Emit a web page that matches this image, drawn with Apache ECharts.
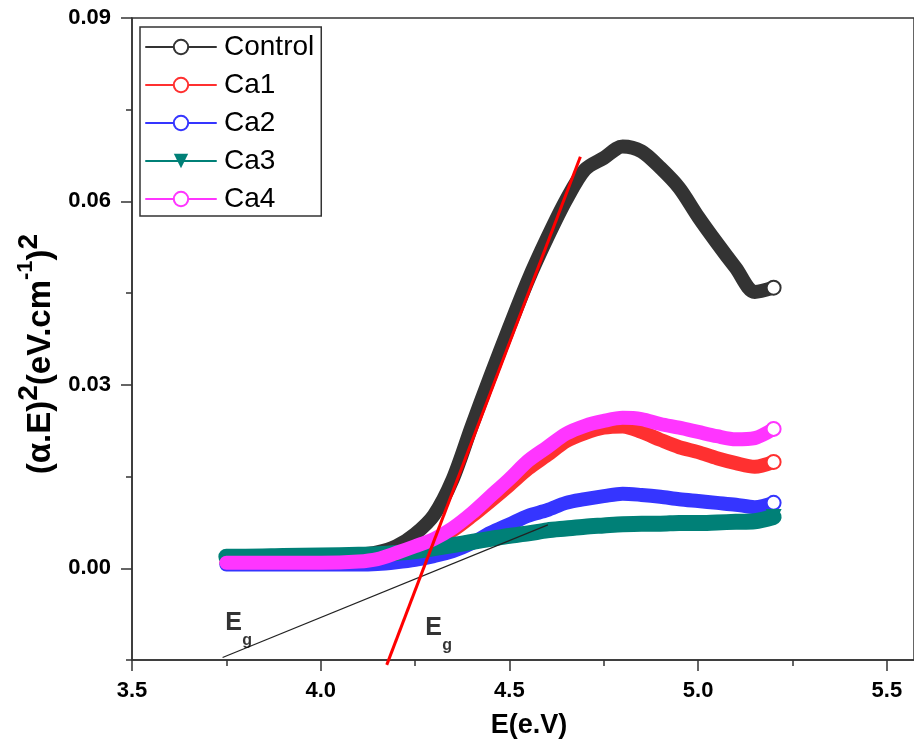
<!DOCTYPE html>
<html><head><meta charset="utf-8">
<script src="https://cdn.jsdelivr.net/npm/echarts@6/dist/echarts.min.js"></script>
<style>html,body{margin:0;padding:0;background:#fff}#c{width:914px;height:747px}</style>
</head><body><div id="c"></div>
<script>
const energy  = [3.75, 3.8, 3.9, 4.0, 4.1, 4.15, 4.2, 4.25, 4.3, 4.35, 4.4, 4.45, 4.5, 4.55, 4.6, 4.65, 4.7, 4.75, 4.8, 4.85, 4.9, 4.95, 5.0, 5.05, 5.1, 5.15, 5.2];
const control = [0.0018, 0.0018, 0.0019, 0.0019, 0.0022, 0.0026, 0.0036, 0.0056, 0.0087, 0.0146, 0.0232, 0.0315, 0.0395, 0.0472, 0.0540, 0.0602, 0.0652, 0.0671, 0.0690, 0.0682, 0.0655, 0.0622, 0.0575, 0.0532, 0.0491, 0.0452, 0.0459];
const ca1     = [0.0009, 0.0009, 0.0009, 0.0009, 0.0010, 0.0013, 0.0022, 0.0033, 0.0045, 0.0062, 0.0085, 0.0110, 0.0136, 0.0163, 0.0185, 0.0208, 0.0221, 0.0230, 0.0232, 0.0223, 0.0210, 0.0198, 0.0190, 0.0180, 0.0172, 0.0166, 0.0174];
const ca2     = [0.0006, 0.0006, 0.0006, 0.0006, 0.0006, 0.0007, 0.0010, 0.0014, 0.0020, 0.0028, 0.0041, 0.0058, 0.0072, 0.0086, 0.0095, 0.0107, 0.0113, 0.0118, 0.0122, 0.0120, 0.0117, 0.0113, 0.0110, 0.0107, 0.0104, 0.0100, 0.0107];
const ca3     = [0.0019, 0.0019, 0.0020, 0.0021, 0.0022, 0.0023, 0.0025, 0.0028, 0.0033, 0.0038, 0.0043, 0.0048, 0.0053, 0.0057, 0.0062, 0.0065, 0.0068, 0.0070, 0.0072, 0.0073, 0.0073, 0.0074, 0.0074, 0.0075, 0.0076, 0.0077, 0.0084];
const ca4     = [0.0009, 0.0009, 0.0009, 0.0009, 0.0011, 0.0015, 0.0025, 0.0036, 0.0048, 0.0066, 0.0090, 0.0118, 0.0146, 0.0176, 0.0198, 0.0220, 0.0233, 0.0241, 0.0246, 0.0244, 0.0236, 0.0230, 0.0223, 0.0216, 0.0211, 0.0213, 0.0228];

const xTickValues      = [3.5, 4.0, 4.5, 5.0, 5.5];
const xMinorTickValues = [3.75, 4.25, 4.75, 5.25];
const yTickValues      = [0, 0.03, 0.06, 0.09];
const yMinorTickValues = [-0.015, 0.015, 0.045, 0.075];

const redTangent   = [[4.175, -0.0158], [4.688, 0.0673]];
const blackTangent = [[3.74, -0.0146], [4.602, 0.0071]];
const egLabels     = [[3.747, -0.0072], [4.277, -0.0080]];

const FONT = 'Liberation Sans, Arial, sans-serif';

function curve(name, vals, color, symbol, width, size, rotate) {
  const last = vals.length - 1;
  return {
    type: 'line', name: name,
    data: energy.map((x, i) => [x, vals[i]]),
    xAxisIndex: 0, yAxisIndex: 0,
    smooth: 0.3,
    symbol: symbol, symbolRotate: rotate || 0,
    symbolSize: (v, p) => p.dataIndex === last ? size : 0,
    showSymbol: true,
    lineStyle: { color: color, width: width, cap: 'round', join: 'round' },
    itemStyle: { color: color, borderWidth: 2 },
    silent: true, animation: false
  };
}

const chart = echarts.init(document.getElementById('c'));
chart.setOption({
  backgroundColor: '#fff',
  animation: false,
  grid: { left: 132, top: 18, right: 0, bottom: 87, containLabel: false, outerBoundsMode: 'none', show: true, borderColor: '#333', borderWidth: 1.5, backgroundColor: 'transparent' },
  legend: {
    orient: 'vertical', left: 140, top: 27,
    padding: [6, 7, 3, 5],
    itemGap: 10, itemWidth: 70, itemHeight: 18,
    borderColor: '#333', borderWidth: 1.5,
    textStyle: { fontFamily: FONT, fontSize: 28, color: '#000', lineHeight: 28, padding: [0, 0, 0, 3] },
    data: ['Control', 'Ca1', 'Ca2', 'Ca3', 'Ca4']
  },
  xAxis: [{
    type: 'value', min: 3.5, max: 5.572,
    name: 'E(e.V)', nameLocation: 'middle', nameGap: 52,
    nameTextStyle: { fontFamily: FONT, fontSize: 27, fontWeight: 'bold', color: '#000', padding: [0, 0, 0, 12] },
    axisLine: { show: true, onZero: false, lineStyle: { color: '#333', width: 1.5 } },
    axisTick: { show: true, customValues: xTickValues, length: 11, lineStyle: { color: '#333', width: 1.5 } },
    axisLabel: { show: true, customValues: xTickValues, margin: 20, fontFamily: FONT, fontSize: 22, fontWeight: 'bold', color: '#000', formatter: v => v.toFixed(1) },
    splitLine: { show: false }
  }, {
    type: 'value', min: 3.5, max: 5.572, position: 'bottom',
    axisLine: { show: false, onZero: false },
    axisTick: { show: true, customValues: xMinorTickValues, length: 6, lineStyle: { color: '#333', width: 1.5 } },
    axisLabel: { show: false },
    splitLine: { show: false }
  }],
  yAxis: [{
    type: 'value', min: -0.015, max: 0.09,
    name: '{a|(α.E)}{s|2}{a|(eV.cm}{t|-1}{a|)}{s|2}',
    nameLocation: 'middle', nameGap: 54,
    nameTextStyle: {
      padding: [0, 30, 0, 0],
      rich: {
        a: { fontFamily: FONT, fontSize: 33, fontWeight: 'bold', color: '#000', lineHeight: 42, verticalAlign: 'bottom' },
        s: { fontFamily: FONT, fontSize: 28, fontWeight: 'bold', color: '#000', lineHeight: 28, verticalAlign: 'top' },
        t: { fontFamily: FONT, fontSize: 22, fontWeight: 'bold', color: '#000', lineHeight: 24, verticalAlign: 'top' }
      }
    },
    axisLine: { show: true, onZero: false, lineStyle: { color: '#333', width: 1.5 } },
    axisTick: { show: true, customValues: yTickValues, length: 11, lineStyle: { color: '#333', width: 1.5 } },
    axisLabel: { show: true, customValues: yTickValues, margin: 21, fontFamily: FONT, fontSize: 22, fontWeight: 'bold', color: '#000', formatter: v => v.toFixed(2) },
    splitLine: { show: false }
  }, {
    type: 'value', min: -0.015, max: 0.09, position: 'left',
    axisLine: { show: false, onZero: false },
    axisTick: { show: true, customValues: yMinorTickValues, length: 6, lineStyle: { color: '#333', width: 1.5 } },
    axisLabel: { show: false },
    splitLine: { show: false }
  }],
  series: [
    curve('Control', control, '#333333', 'emptyCircle', 14, 14),
    curve('Ca1', ca1, '#ff3030', 'emptyCircle', 14, 14),
    curve('Ca2', ca2, '#3535ff', 'emptyCircle', 14, 14),
    curve('Ca3', ca3, '#008077', 'triangle', 16, 16, 180),
    curve('Ca4', ca4, '#ff35ff', 'emptyCircle', 14, 14),
    {
      type: 'line', name: 'tangentBlack', data: blackTangent, symbol: 'none', clip: false,
      lineStyle: { color: '#222', width: 1.2 }, silent: true, z: 5
    },
    {
      type: 'line', name: 'tangentRed', data: redTangent, symbol: 'none', clip: false,
      lineStyle: { color: '#ff0000', width: 3 }, silent: true, z: 6
    },
    {
      type: 'scatter', name: 'eg', data: egLabels, symbolSize: 0, silent: true, z: 7,
      label: {
        show: true, position: [0, 0], align: 'left', verticalAlign: 'top',
        formatter: '{e|E}\n{g|g}',
        rich: {
          e: { fontFamily: FONT, fontSize: 25, fontWeight: 'bold', color: '#000', lineHeight: 22 },
          g: { fontFamily: FONT, fontSize: 16, fontWeight: 'bold', color: '#000', lineHeight: 12, padding: [0, 0, 0, 17] }
        }
      }
    }
  ]
});
</script>
</body></html>
